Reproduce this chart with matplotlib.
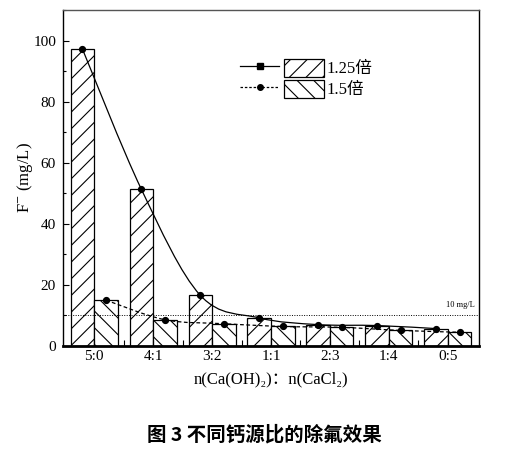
import matplotlib
matplotlib.use("Agg")
import matplotlib.pyplot as plt
import numpy as np
from matplotlib.path import Path
from matplotlib.patches import PathPatch, Patch
from matplotlib.lines import Line2D
from matplotlib.legend_handler import HandlerTuple
from matplotlib.ticker import MultipleLocator, FixedLocator

plt.rcParams['font.family'] = ['Liberation Serif', 'Noto Sans CJK SC', 'DejaVu Sans']
plt.rcParams['mathtext.fontset'] = 'stix'
plt.rcParams['hatch.linewidth'] = 0.8

categories = ['5:0', '4:1', '3:2', '1:1', '2:3', '1:4', '0:5']
vals_125 = [97.2, 51.3, 16.6, 9.2, 7.0, 6.7, 5.7]
vals_15 = [15.0, 8.6, 7.3, 6.4, 6.1, 5.1, 4.5]
series_names = ['1.25倍', '1.5倍']
limit_value = 10
limit_label = '10 mg/L'
ylabel = 'F$^{-}$ (mg/L)'
xlabel = 'n(Ca(OH)₂)：n(CaCl₂)'
title = '图 3 不同钙源比的除氟效果'

fig = plt.figure(figsize=(5.09, 4.53), dpi=100)
ax = fig.add_axes([0.1238, 0.2362, 0.8172, 0.7418])

x = np.arange(len(categories))
w = 0.4
ax.bar(x - w/2, vals_125, width=w, facecolor='white', edgecolor='black', linewidth=0.9, hatch='//')
ax.bar(x + w/2, vals_15, width=w, facecolor='white', edgecolor='black', linewidth=0.9, hatch='\\\\')


def smooth_path(xs, ys):
    P = np.column_stack([xs, ys]).astype(float)
    n = len(P)
    verts = [P[0]]
    codes = [Path.MOVETO]
    for i in range(n - 1):
        p0 = P[i - 1] if i > 0 else P[i]
        p1 = P[i]
        p2 = P[i + 1]
        p3 = P[i + 2] if i + 2 < n else P[i + 1]
        c1 = p1 + (p2 - p0) / 6.0
        c2 = p2 - (p3 - p1) / 6.0
        verts += [c1, c2, p2]
        codes += [Path.CURVE4] * 3
    return Path(verts, codes)


ax.add_patch(PathPatch(smooth_path(x - w/2, vals_125), fill=False, edgecolor='black', linewidth=0.9, zorder=4))
ax.add_patch(PathPatch(smooth_path(x + w/2, vals_15), fill=False, edgecolor='black', linewidth=0.9,
                       linestyle=(0, (3, 2)), zorder=4))
ax.plot(x - w/2, vals_125, linestyle='none', marker='o', markersize=4.2, color='black', zorder=5)
ax.plot(x + w/2, vals_15, linestyle='none', marker='o', markersize=4.2, color='black', zorder=5)

ax.axhline(limit_value, color='black', linestyle=(0, (1, 1.5)), linewidth=0.7, zorder=3)
ax.text(6.45, limit_value + 2.2, limit_label, fontsize=6, ha='right', va='bottom')

ax.set_xlim(-0.53, 6.53)
ax.set_ylim(0, 110)
ax.set_xticks(x)
ax.set_xticklabels(categories)
ax.xaxis.set_minor_locator(FixedLocator(x[:-1] + 0.5))
ax.yaxis.set_major_locator(MultipleLocator(20))
ax.yaxis.set_minor_locator(MultipleLocator(10))
ax.tick_params(axis='both', which='both', direction='in', labelsize=11)
ax.tick_params(axis='y', which='major', length=4, width=0.8)
ax.tick_params(axis='y', which='minor', length=2.5, width=0.8)
ax.tick_params(axis='x', which='major', length=4, width=0.8, pad=3)
ax.tick_params(axis='x', which='minor', length=4, width=0.8)
ax.tick_params(axis='y', pad=5)

for s in ['left', 'right', 'top']:
    ax.spines[s].set_linewidth(1.0)
ax.spines['bottom'].set_linewidth(2.0)
ax.spines['top'].set_color('#555555')

ax.set_ylabel(ylabel, fontsize=12, labelpad=-1)
ax.set_xlabel(xlabel, fontsize=12, labelpad=6)

h1 = (Line2D([], [], color='black', linewidth=0.9, marker='s', markersize=4),
      Patch(facecolor='white', edgecolor='black', hatch='//', linewidth=0.9))
h2 = (Line2D([], [], color='black', linewidth=0.9, linestyle=(0, (2, 1.5)), marker='o', markersize=4),
      Patch(facecolor='white', edgecolor='black', hatch='\\\\', linewidth=0.9))
ax.legend([h1, h2], series_names, handler_map={tuple: HandlerTuple(ndivide=None, pad=0.3)},
          loc='upper left', bbox_to_anchor=(0.41, 0.875), frameon=False, fontsize=12,
          handlelength=5.0, handleheight=1.3, handletextpad=0.2, labelspacing=0.15, borderaxespad=0)

fig.text(0.52, 0.04, title, fontsize=14, fontweight='bold', ha='center', va='center',
         family=['Noto Sans CJK SC', 'Liberation Serif'])

fig.savefig('out.png', dpi=100)
